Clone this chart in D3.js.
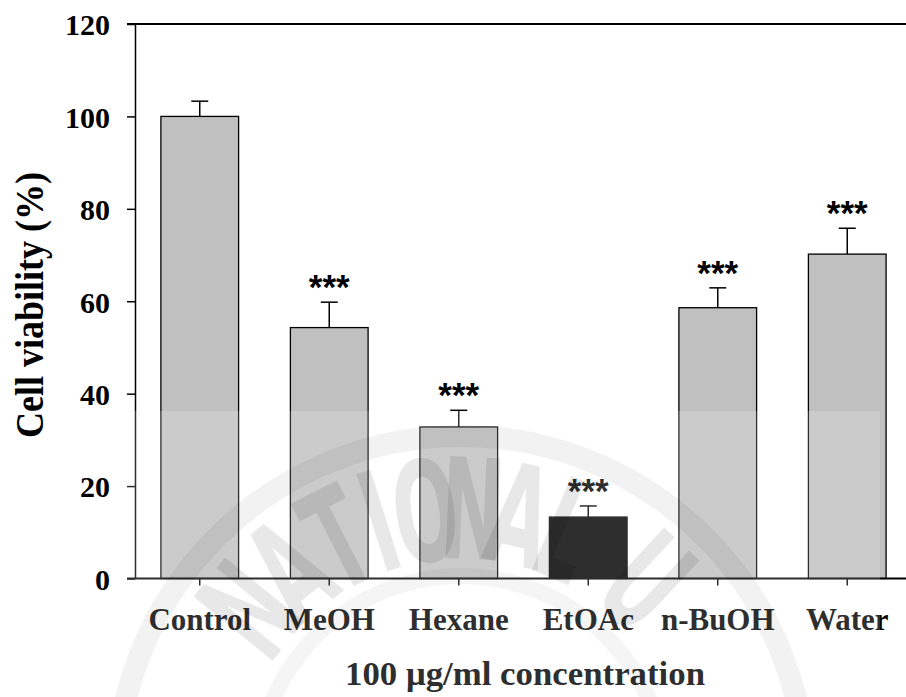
<!DOCTYPE html>
<html>
<head>
<meta charset="utf-8">
<script src="https://cdn.jsdelivr.net/npm/d3@7"></script>
<style>
  html, body { margin: 0; padding: 0; background: #fff; }
  svg { display: block; }
</style>
</head>
<body>
<script>
// Extract groups and measured cell viability (% of control), mean and SEM
const categories = ["Control", "MeOH", "Hexane", "EtOAc", "n-BuOH", "Water"];
const viability  = [100, 54.3, 32.8, 13.3, 58.6, 70.2];
const sem        = [3.3, 5.5, 3.6, 2.4, 4.3, 5.6];
const significance = ["", "***", "***", "***", "***", "***"];
const yTicks = [0, 20, 40, 60, 80, 100, 120];
const highlighted = "EtOAc";

const W = 906, H = 697;
const serif = "'Liberation Serif', 'Times New Roman', serif";
const sans = "'Liberation Sans', Arial, sans-serif";

const svg = d3.select("body").append("svg")
  .attr("width", W).attr("height", H);

const x = d3.scaleBand()
  .domain(categories)
  .range([135, 912])
  .paddingInner(0.4)
  .paddingOuter(0.2);

const y = d3.scaleLinear().domain([0, 120]).range([578.5, 24]);

const data = categories.map((c, i) => ({ c, v: viability[i], e: sem[i], s: significance[i] }));

// Bars
const plot = svg.append("g");
plot.selectAll("rect.bar").data(data).join("rect")
  .attr("class", "bar")
  .attr("x", d => x(d.c))
  .attr("y", d => y(d.v))
  .attr("width", x.bandwidth())
  .attr("height", d => y(0) - y(d.v))
  .attr("fill", d => d.c === highlighted ? "#000" : "#c0c0c0")
  .attr("stroke", "#000")
  .attr("stroke-width", 1.3);

// Upper error bars
const err = plot.selectAll("g.err").data(data).join("g").attr("class", "err")
  .attr("stroke", "#000").attr("stroke-width", 1.5);
err.append("line")
  .attr("x1", d => x(d.c) + x.bandwidth() / 2)
  .attr("x2", d => x(d.c) + x.bandwidth() / 2)
  .attr("y1", d => y(d.v))
  .attr("y2", d => y(d.v + d.e));
err.append("line")
  .attr("x1", d => x(d.c) + x.bandwidth() / 2 - 8.5)
  .attr("x2", d => x(d.c) + x.bandwidth() / 2 + 8.5)
  .attr("y1", d => y(d.v + d.e))
  .attr("y2", d => y(d.v + d.e));

// Significance markers
plot.selectAll("text.sig").data(data.filter(d => d.s)).join("text")
  .attr("class", "sig")
  .attr("x", d => x(d.c) + x.bandwidth() / 2)
  .attr("y", d => y(d.v + d.e) - 3)
  .attr("text-anchor", "middle")
  .attr("font-family", sans)
  .attr("font-weight", "bold")
  .attr("font-size", 35)
  .attr("fill", "#000")
  .text(d => d.s);

// Y axis
const gy = svg.append("g")
  .attr("transform", "translate(135,0)")
  .call(d3.axisLeft(y).tickValues(yTicks).tickSize(8).tickSizeOuter(0).tickPadding(17));
gy.select(".domain").attr("stroke", "#000").attr("stroke-width", 1.5);
gy.selectAll(".tick line").attr("stroke", "#000").attr("stroke-width", 1.5);
gy.selectAll(".tick text")
  .attr("font-family", serif).attr("font-weight", "bold").attr("font-size", 30)
  .attr("fill", "#000").attr("dy", "0.36em");

// X axis
const gx = svg.append("g")
  .attr("transform", `translate(0,${y(0)})`)
  .call(d3.axisBottom(x).tickSize(7).tickSizeOuter(0).tickPadding(22));
gx.select(".domain").remove();
gx.selectAll(".tick line").attr("stroke", "#000").attr("stroke-width", 1.5);
gx.selectAll(".tick text")
  .attr("font-family", serif).attr("font-weight", "bold").attr("font-size", 31)
  .attr("fill", "#000");

// Baseline and top frame line
svg.append("line")
  .attr("x1", 127).attr("x2", W).attr("y1", y(0)).attr("y2", y(0))
  .attr("stroke", "#000").attr("stroke-width", 2);
svg.append("line")
  .attr("x1", 127).attr("x2", W).attr("y1", y(120)).attr("y2", y(120))
  .attr("stroke", "#000").attr("stroke-width", 2);

// Axis titles
svg.append("text")
  .attr("transform", "translate(43,305) rotate(-90)")
  .attr("text-anchor", "middle")
  .attr("font-family", serif).attr("font-weight", "bold").attr("font-size", 40)
  .attr("textLength", 266).attr("lengthAdjust", "spacingAndGlyphs")
  .attr("fill", "#000")
  .text("Cell viability (%)");

svg.append("text")
  .attr("x", 525).attr("y", 685)
  .attr("text-anchor", "middle")
  .attr("font-family", serif).attr("font-weight", "bold").attr("font-size", 34)
  .attr("textLength", 360).attr("lengthAdjust", "spacingAndGlyphs")
  .attr("fill", "#000")
  .text("100 μg/ml concentration");

// Faint seal watermark over the lower part of the figure
const wm = svg.append("g").attr("pointer-events", "none");
wm.append("rect")
  .attr("x", 110).attr("y", 411).attr("width", 770).attr("height", H - 411)
  .attr("fill", "#fff").attr("opacity", 0.18);

const seal = wm.append("g").attr("transform", "translate(461,781)");
seal.append("circle").attr("r", 345)
  .attr("fill", "none").attr("stroke", "#000").attr("stroke-opacity", 0.05).attr("stroke-width", 22);
seal.append("circle").attr("r", 205)
  .attr("fill", "none").attr("stroke", "#000").attr("stroke-opacity", 0.04).attr("stroke-width", 16);

const sealLetters = ["N", "A", "T", "I", "O", "N", "A", "L", "U"];
const sealAngles  = [-51, -39, -27, -17.5, -7.5, 2.5, 12.5, 23, 43];
seal.selectAll("text").data(sealLetters).join("text")
  .attr("transform", (d, i) => `rotate(${sealAngles[i]}) translate(0,-222) scale(0.55,1)`)
  .attr("text-anchor", "middle")
  .attr("font-family", "'DejaVu Sans', sans-serif").attr("font-weight", "bold").attr("font-size", 140)
  .attr("fill", "#000").attr("fill-opacity", 0.09)
  .text(d => d);
</script>
</body>
</html>
